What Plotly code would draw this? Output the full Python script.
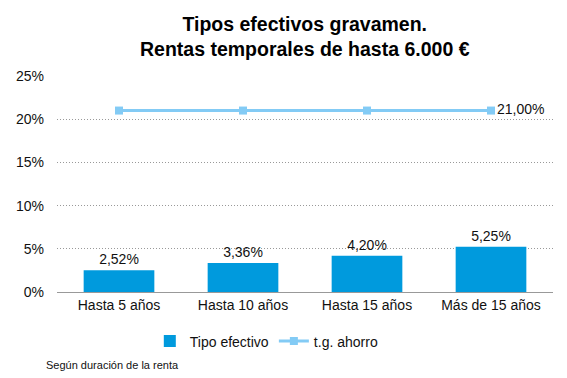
import plotly.graph_objects as go

categories = ["Hasta 5 años", "Hasta 10 años", "Hasta 15 años", "Más de 15 años"]
tipo_efectivo = [2.52, 3.36, 4.20, 5.25]
tg_ahorro = [21.00, 21.00, 21.00, 21.00]
y_ticks = [0, 5, 10, 15, 20, 25]

def fmt(v):
    return f"{v:.2f}".replace(".", ",") + "%"

font = "Liberation Sans, Arial, sans-serif"

fig = go.Figure()
fig.add_trace(go.Bar(
    x=categories, y=tipo_efectivo, name="Tipo efectivo",
    marker=dict(color="#009ADD", line=dict(width=0)),
    text=[fmt(v) for v in tipo_efectivo], textposition="outside",
    textfont=dict(size=14, color="#111", family=font),
    cliponaxis=False, width=0.57,
))
fig.add_trace(go.Scatter(
    x=categories, y=tg_ahorro, name="t.g. ahorro",
    mode="lines+markers+text",
    line=dict(color="#83CBF5", width=3),
    marker=dict(symbol="square", size=8, color="#83CBF5"),
    text=["", "", "", fmt(tg_ahorro[-1])], textposition="middle right",
    textfont=dict(size=14, color="#111", family=font),
    cliponaxis=False,
))
fig.update_layout(
    width=567, height=378,
    margin=dict(l=57, r=14, t=76, b=86),
    paper_bgcolor="white", plot_bgcolor="white",
    font=dict(family=font, size=14, color="#111"),
    showlegend=True,
    legend=dict(orientation="h", x=0.423, xanchor="center", y=-0.155, yanchor="top",
                font=dict(size=14, family=font), itemwidth=30, tracegroupgap=0),
    bargap=0.43,
)
fig.update_yaxes(range=[0, 25], tickvals=y_ticks, ticktext=[f"{t}%" for t in y_ticks],
                 showgrid=True, gridcolor="#999", griddash="1px,2px", gridwidth=1,
                 zeroline=False, showline=False, ticks="", ticklen=0,
                 ticklabelstandoff=12,
                 tickfont=dict(size=14, family=font))
fig.update_xaxes(showline=True, linecolor="#999", linewidth=1, ticks="",
                 tickfont=dict(size=14, family=font))
fig.add_annotation(text="<b>Tipos efectivos gravamen.<br>Rentas temporales de hasta 6.000 €</b>",
                   xref="paper", yref="paper", x=0.5, y=1.30, xanchor="center", yanchor="top",
                   showarrow=False, align="center",
                   font=dict(size=19.5, family=font, color="black"))
fig.add_annotation(text="Según duración de la renta", xref="paper", yref="paper",
                   x=-0.026, y=-0.30, xanchor="left", yanchor="top", showarrow=False,
                   font=dict(size=11, family=font, color="#111"))
fig.write_html("out.html", config={"displayModeBar": False},
               post_script="document.body.style.margin='0';")
